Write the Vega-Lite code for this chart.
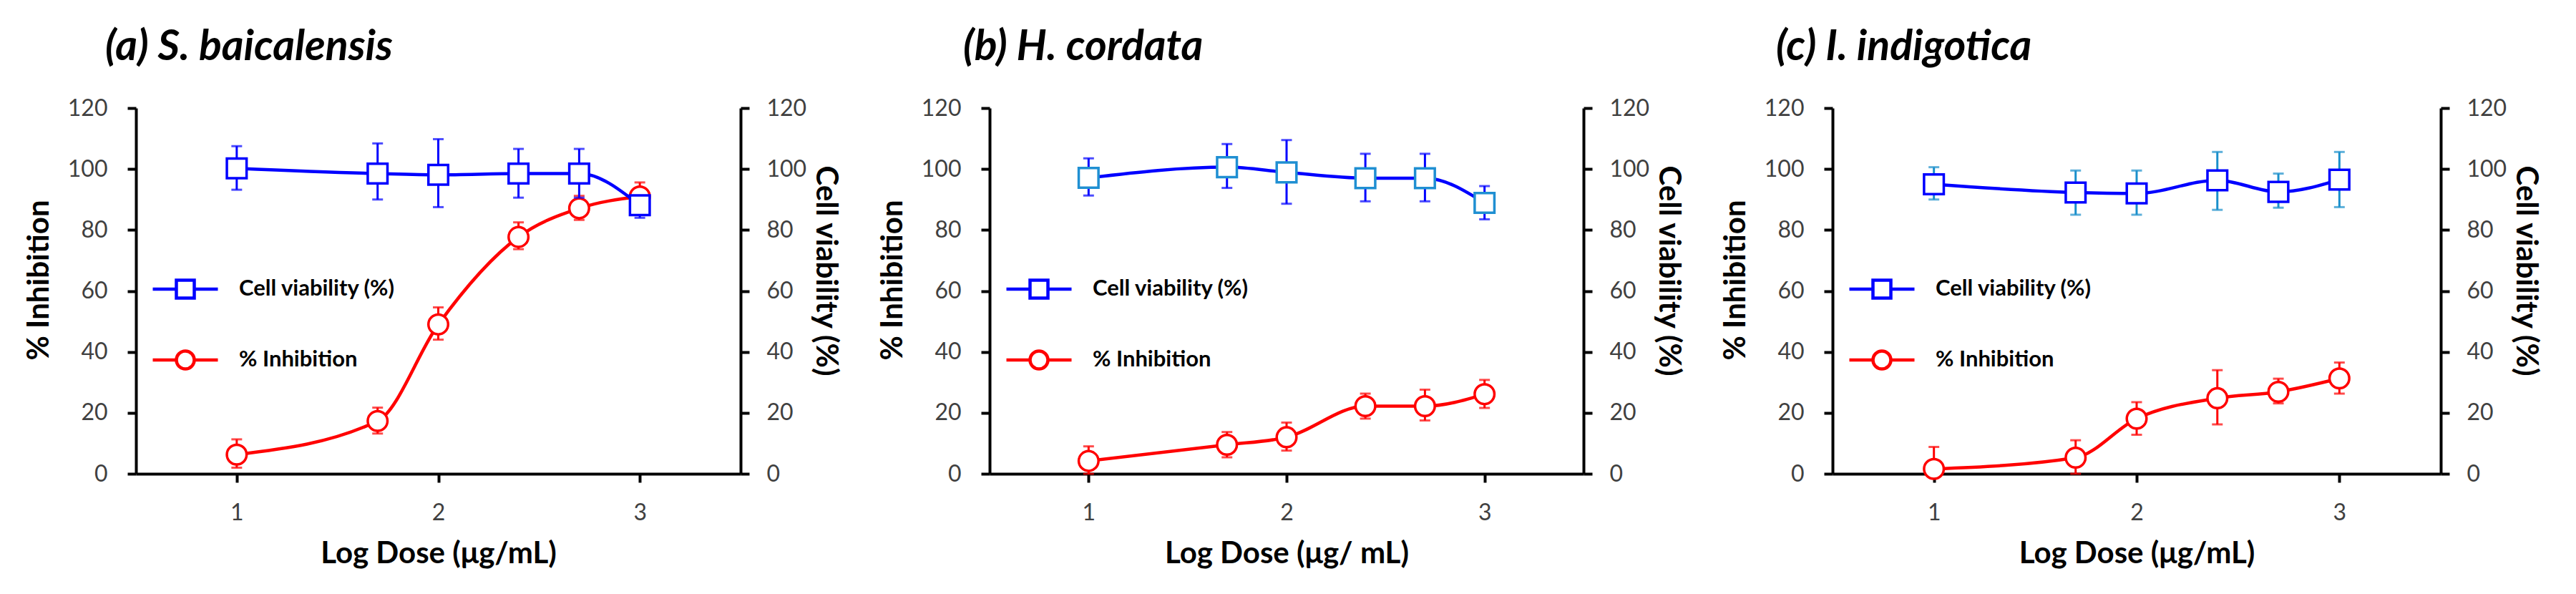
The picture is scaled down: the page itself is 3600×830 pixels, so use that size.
{
  "$schema": "https://vega.github.io/schema/vega-lite/v6.json",
  "padding": {"left": 33, "top": 37, "right": 5, "bottom": 5},
  "background": "white",
  "config": {
    "view": {"stroke": null},
    "font": "Lato",
    "title": {"fontSize": 59, "fontWeight": "bold", "fontStyle": "italic", "anchor": "start", "frame": "group", "color": "black", "offset": 39},
    "axis": {
      "grid": false,
      "domainColor": "black",
      "domainWidth": 4,
      "tickColor": "black",
      "tickWidth": 4,
      "tickSize": 12,
      "labelFont": "Lato",
      "labelFontSize": 32,
      "labelColor": "#404040",
      "labelPadding": 30,
      "titleFont": "Lato",
      "titleFontSize": 42,
      "titleFontWeight": "bold",
      "titleColor": "black"
    },
    "legend": {
      "orient": "none",
      "legendX": 21,
      "legendY": 205,
      "padding": 0,
      "rowPadding": 29,
      "symbolSize": 8281,
      "symbolStrokeWidth": 4.5,
      "labelFont": "Lato",
      "labelFontSize": 31,
      "labelFontWeight": "bold",
      "labelColor": "black",
      "labelOffset": 27,
      "labelLimit": 0
    }
  },
  "datasets": {
    "a": [
      {"dose": 1, "series": "% Inhibition", "value": 6.3, "lo": 2, "hi": 11.3},
      {"dose": 1.699, "series": "% Inhibition", "value": 17.3, "lo": 13.2, "hi": 21.7},
      {"dose": 2, "series": "% Inhibition", "value": 49, "lo": 44, "hi": 54.6},
      {"dose": 2.398, "series": "% Inhibition", "value": 77.7, "lo": 73.7, "hi": 82.5},
      {"dose": 2.699, "series": "% Inhibition", "value": 87.1, "lo": 83.3, "hi": 91.2},
      {"dose": 3, "series": "% Inhibition", "value": 91, "lo": 86.4, "hi": 95.6},
      {"dose": 1, "series": "Cell viability (%)", "value": 100.2, "lo": 93.2, "hi": 107.5},
      {"dose": 1.699, "series": "Cell viability (%)", "value": 98.5, "lo": 90, "hi": 108.4},
      {"dose": 2, "series": "Cell viability (%)", "value": 98.1, "lo": 87.5, "hi": 109.8},
      {"dose": 2.398, "series": "Cell viability (%)", "value": 98.5, "lo": 90.6, "hi": 106.6},
      {"dose": 2.699, "series": "Cell viability (%)", "value": 98.5, "lo": 90.6, "hi": 106.6},
      {"dose": 3, "series": "Cell viability (%)", "value": 88.1, "lo": 84, "hi": 91.2}
    ],
    "b": [
      {"dose": 1, "series": "% Inhibition", "value": 4.2, "lo": 0, "hi": 9},
      {"dose": 1.699, "series": "% Inhibition", "value": 9.5, "lo": 5.4, "hi": 13.7},
      {"dose": 2, "series": "% Inhibition", "value": 12, "lo": 7.6, "hi": 16.8},
      {"dose": 2.398, "series": "% Inhibition", "value": 22.2, "lo": 18.1, "hi": 26.3},
      {"dose": 2.699, "series": "% Inhibition", "value": 22.2, "lo": 17.5, "hi": 27.6},
      {"dose": 3, "series": "% Inhibition", "value": 26.1, "lo": 21.6, "hi": 30.8},
      {"dose": 1, "series": "Cell viability (%)", "value": 97.1, "lo": 91.3, "hi": 103.5},
      {"dose": 1.699, "series": "Cell viability (%)", "value": 100.6, "lo": 93.8, "hi": 108.2},
      {"dose": 2, "series": "Cell viability (%)", "value": 98.9, "lo": 88.6, "hi": 109.5},
      {"dose": 2.398, "series": "Cell viability (%)", "value": 97, "lo": 89.4, "hi": 105},
      {"dose": 2.699, "series": "Cell viability (%)", "value": 97, "lo": 89.4, "hi": 105},
      {"dose": 3, "series": "Cell viability (%)", "value": 88.9, "lo": 83.5, "hi": 94.4}
    ],
    "c": [
      {"dose": 1, "series": "% Inhibition", "value": 1.6, "lo": 0, "hi": 8.8},
      {"dose": 1.699, "series": "% Inhibition", "value": 5.3, "lo": 0, "hi": 11},
      {"dose": 2, "series": "% Inhibition", "value": 18.1, "lo": 12.8, "hi": 23.5},
      {"dose": 2.398, "series": "% Inhibition", "value": 24.8, "lo": 16.2, "hi": 34},
      {"dose": 2.699, "series": "% Inhibition", "value": 26.9, "lo": 23.1, "hi": 31.2},
      {"dose": 3, "series": "% Inhibition", "value": 31.3, "lo": 26.3, "hi": 36.5},
      {"dose": 1, "series": "Cell viability (%)", "value": 95, "lo": 90, "hi": 100.6},
      {"dose": 1.699, "series": "Cell viability (%)", "value": 92.3, "lo": 85, "hi": 99.5},
      {"dose": 2, "series": "Cell viability (%)", "value": 92, "lo": 85, "hi": 99.5},
      {"dose": 2.398, "series": "Cell viability (%)", "value": 96.3, "lo": 86.6, "hi": 105.6},
      {"dose": 2.699, "series": "Cell viability (%)", "value": 92.5, "lo": 87.3, "hi": 98.5},
      {"dose": 3, "series": "Cell viability (%)", "value": 96.5, "lo": 87.5, "hi": 105.6}
    ]
  },
  "spacing": 52,
  "resolve": {"scale": {"color": "independent"}, "legend": {"color": "independent"}},
  "hconcat": [
    {
      "title": {"text": "(a) S. baicalensis", "dx": -43},
      "width": 845,
      "height": 511,
      "data": {"name": "a"},
      "resolve": {"scale": {"y": "independent"}},
      "layer": [
        {
          "transform": [{"filter": "datum.series === '% Inhibition'"}],
          "layer": [
            {
              "mark": {"type": "line", "interpolate": "monotone", "strokeWidth": 4.5},
              "encoding": {
                "x": {"field": "dose", "type": "quantitative", "scale": {"domain": [0.5, 3.5], "nice": false}, "title": "Log Dose (μg/mL)", "axis": {"values": [1, 2, 3], "format": "d", "labelPadding": 27, "titlePadding": 21}},
                "y": {"field": "value", "type": "quantitative", "scale": {"domain": [0, 120], "nice": false}, "title": "% Inhibition", "axis": {"orient": "left", "values": [0, 20, 40, 60, 80, 100, 120], "labelPadding": 28, "minExtent": 96, "maxExtent": 96, "titlePadding": 18, "titleY": 240}},
                "color": {"field": "series", "type": "nominal", "scale": {"domain": ["Cell viability (%)", "% Inhibition"], "range": ["#0000ff", "#ff0000"]},
                  "legend": {"title": null, "labelExpr": "datum.label === '% Inhibition' ? '\u00a0\u00a0% Inhibition' : datum.label",
                    "encode": {"symbols": {"update": {"fill": {"value": "white"}, "shape": {"signal": "datum.value === 'Cell viability (%)' ? 'M-1,0H-0.275M0.275,0H1M-0.275,-0.275H0.275V0.275H-0.275Z' : 'M-1,0H-0.275M0.275,0H1M0.275,0A0.275,0.275,0,1,1,-0.275,0A0.275,0.275,0,1,1,0.275,0Z'"}}}}}}
              }
            },
            {
              "mark": {"type": "errorbar", "color": "#ff0000", "ticks": {"size": 15, "thickness": 3, "color": "#ff0000"}, "rule": {"strokeWidth": 3, "color": "#ff0000"}},
              "encoding": {
                "x": {"field": "dose", "type": "quantitative"},
                "y": {"field": "lo", "type": "quantitative", "title": "% Inhibition"},
                "y2": {"field": "hi"}
              }
            },
            {
              "mark": {"type": "point", "shape": "circle", "filled": true, "fill": "white", "stroke": "#ff0000", "strokeWidth": 3.5, "size": 760, "opacity": 1},
              "encoding": {
                "x": {"field": "dose", "type": "quantitative"},
                "y": {"field": "value", "type": "quantitative", "title": "% Inhibition"}
              }
            }
          ]
        },
        {
          "transform": [{"filter": "datum.series === 'Cell viability (%)'"}],
          "layer": [
            {
              "mark": {"type": "line", "interpolate": "monotone", "strokeWidth": 4.5},
              "encoding": {
                "x": {"field": "dose", "type": "quantitative"},
                "y": {"field": "value", "type": "quantitative", "scale": {"domain": [0, 120], "nice": false}, "title": "Cell viability (%)", "axis": {"orient": "right", "values": [0, 20, 40, 60, 80, 100, 120], "labelPadding": 24, "minExtent": 90, "maxExtent": 90, "titlePadding": 6, "titleY": 227}},
                "color": {"field": "series", "type": "nominal"}
              }
            },
            {
              "mark": {"type": "errorbar", "color": "#0000ff", "ticks": {"size": 15, "thickness": 3, "color": "#0000ff"}, "rule": {"strokeWidth": 3, "color": "#0000ff"}},
              "encoding": {
                "x": {"field": "dose", "type": "quantitative"},
                "y": {"field": "lo", "type": "quantitative", "title": "Cell viability (%)"},
                "y2": {"field": "hi"}
              }
            },
            {
              "mark": {"type": "point", "shape": "square", "filled": true, "fill": "white", "stroke": "#0000ff", "strokeWidth": 3.5, "size": 760, "opacity": 1},
              "encoding": {
                "x": {"field": "dose", "type": "quantitative"},
                "y": {"field": "value", "type": "quantitative", "title": "Cell viability (%)"}
              }
            }
          ]
        }
      ]
    },
    {
      "title": {"text": "(b) H. cordata", "dx": -37},
      "width": 830,
      "height": 511,
      "data": {"name": "b"},
      "resolve": {"scale": {"y": "independent"}},
      "layer": [
        {
          "transform": [{"filter": "datum.series === '% Inhibition'"}],
          "layer": [
            {
              "mark": {"type": "line", "interpolate": "monotone", "strokeWidth": 4.5},
              "encoding": {
                "x": {"field": "dose", "type": "quantitative", "scale": {"domain": [0.5, 3.5], "nice": false}, "title": "Log Dose (μg/ mL)", "axis": {"values": [1, 2, 3], "format": "d", "labelPadding": 27, "titlePadding": 21}},
                "y": {"field": "value", "type": "quantitative", "scale": {"domain": [0, 120], "nice": false}, "title": "% Inhibition", "axis": {"orient": "left", "values": [0, 20, 40, 60, 80, 100, 120], "labelPadding": 28, "minExtent": 96, "maxExtent": 96, "titlePadding": 18, "titleY": 240}},
                "color": {"field": "series", "type": "nominal", "scale": {"domain": ["Cell viability (%)", "% Inhibition"], "range": ["#0000ff", "#ff0000"]},
                  "legend": {"title": null, "labelExpr": "datum.label === '% Inhibition' ? '\u00a0\u00a0% Inhibition' : datum.label",
                    "encode": {"symbols": {"update": {"fill": {"value": "white"}, "shape": {"signal": "datum.value === 'Cell viability (%)' ? 'M-1,0H-0.275M0.275,0H1M-0.275,-0.275H0.275V0.275H-0.275Z' : 'M-1,0H-0.275M0.275,0H1M0.275,0A0.275,0.275,0,1,1,-0.275,0A0.275,0.275,0,1,1,0.275,0Z'"}}}}}}
              }
            },
            {
              "mark": {"type": "errorbar", "color": "#ff0000", "ticks": {"size": 15, "thickness": 3, "color": "#ff0000"}, "rule": {"strokeWidth": 3, "color": "#ff0000"}},
              "encoding": {
                "x": {"field": "dose", "type": "quantitative"},
                "y": {"field": "lo", "type": "quantitative", "title": "% Inhibition"},
                "y2": {"field": "hi"}
              }
            },
            {
              "mark": {"type": "point", "shape": "circle", "filled": true, "fill": "white", "stroke": "#ff0000", "strokeWidth": 3.5, "size": 760, "opacity": 1},
              "encoding": {
                "x": {"field": "dose", "type": "quantitative"},
                "y": {"field": "value", "type": "quantitative", "title": "% Inhibition"}
              }
            }
          ]
        },
        {
          "transform": [{"filter": "datum.series === 'Cell viability (%)'"}],
          "layer": [
            {
              "mark": {"type": "line", "interpolate": "monotone", "strokeWidth": 4.5},
              "encoding": {
                "x": {"field": "dose", "type": "quantitative"},
                "y": {"field": "value", "type": "quantitative", "scale": {"domain": [0, 120], "nice": false}, "title": "Cell viability (%)", "axis": {"orient": "right", "values": [0, 20, 40, 60, 80, 100, 120], "labelPadding": 24, "minExtent": 90, "maxExtent": 90, "titlePadding": 6, "titleY": 227}},
                "color": {"field": "series", "type": "nominal"}
              }
            },
            {
              "mark": {"type": "errorbar", "color": "#0000ff", "ticks": {"size": 15, "thickness": 3, "color": "#0000ff"}, "rule": {"strokeWidth": 3, "color": "#0000ff"}},
              "encoding": {
                "x": {"field": "dose", "type": "quantitative"},
                "y": {"field": "lo", "type": "quantitative", "title": "Cell viability (%)"},
                "y2": {"field": "hi"}
              }
            },
            {
              "mark": {"type": "point", "shape": "square", "filled": true, "fill": "white", "stroke": "#1f8fd2", "strokeWidth": 3.5, "size": 760, "opacity": 1},
              "encoding": {
                "x": {"field": "dose", "type": "quantitative"},
                "y": {"field": "value", "type": "quantitative", "title": "Cell viability (%)"}
              }
            }
          ]
        }
      ]
    },
    {
      "title": {"text": "(c) I. indigotica", "dx": -79},
      "width": 850,
      "height": 511,
      "data": {"name": "c"},
      "resolve": {"scale": {"y": "independent"}},
      "layer": [
        {
          "transform": [{"filter": "datum.series === '% Inhibition'"}],
          "layer": [
            {
              "mark": {"type": "line", "interpolate": "monotone", "strokeWidth": 4.5},
              "encoding": {
                "x": {"field": "dose", "type": "quantitative", "scale": {"domain": [0.5, 3.5], "nice": false}, "title": "Log Dose (μg/mL)", "axis": {"values": [1, 2, 3], "format": "d", "labelPadding": 27, "titlePadding": 21}},
                "y": {"field": "value", "type": "quantitative", "scale": {"domain": [0, 120], "nice": false}, "title": "% Inhibition", "axis": {"orient": "left", "values": [0, 20, 40, 60, 80, 100, 120], "labelPadding": 28, "minExtent": 96, "maxExtent": 96, "titlePadding": 18, "titleY": 240}},
                "color": {"field": "series", "type": "nominal", "scale": {"domain": ["Cell viability (%)", "% Inhibition"], "range": ["#0000ff", "#ff0000"]},
                  "legend": {"title": null, "labelExpr": "datum.label === '% Inhibition' ? '\u00a0\u00a0% Inhibition' : datum.label",
                    "encode": {"symbols": {"update": {"fill": {"value": "white"}, "shape": {"signal": "datum.value === 'Cell viability (%)' ? 'M-1,0H-0.275M0.275,0H1M-0.275,-0.275H0.275V0.275H-0.275Z' : 'M-1,0H-0.275M0.275,0H1M0.275,0A0.275,0.275,0,1,1,-0.275,0A0.275,0.275,0,1,1,0.275,0Z'"}}}}}}
              }
            },
            {
              "mark": {"type": "errorbar", "color": "#ff0000", "ticks": {"size": 15, "thickness": 3, "color": "#ff0000"}, "rule": {"strokeWidth": 3, "color": "#ff0000"}},
              "encoding": {
                "x": {"field": "dose", "type": "quantitative"},
                "y": {"field": "lo", "type": "quantitative", "title": "% Inhibition"},
                "y2": {"field": "hi"}
              }
            },
            {
              "mark": {"type": "point", "shape": "circle", "filled": true, "fill": "white", "stroke": "#ff0000", "strokeWidth": 3.5, "size": 760, "opacity": 1},
              "encoding": {
                "x": {"field": "dose", "type": "quantitative"},
                "y": {"field": "value", "type": "quantitative", "title": "% Inhibition"}
              }
            }
          ]
        },
        {
          "transform": [{"filter": "datum.series === 'Cell viability (%)'"}],
          "layer": [
            {
              "mark": {"type": "line", "interpolate": "monotone", "strokeWidth": 4.5},
              "encoding": {
                "x": {"field": "dose", "type": "quantitative"},
                "y": {"field": "value", "type": "quantitative", "scale": {"domain": [0, 120], "nice": false}, "title": "Cell viability (%)", "axis": {"orient": "right", "values": [0, 20, 40, 60, 80, 100, 120], "labelPadding": 24, "minExtent": 90, "maxExtent": 90, "titlePadding": 6, "titleY": 227}},
                "color": {"field": "series", "type": "nominal"}
              }
            },
            {
              "mark": {"type": "errorbar", "color": "#1a8fcb", "ticks": {"size": 15, "thickness": 3, "color": "#1a8fcb"}, "rule": {"strokeWidth": 3, "color": "#1a8fcb"}},
              "encoding": {
                "x": {"field": "dose", "type": "quantitative"},
                "y": {"field": "lo", "type": "quantitative", "title": "Cell viability (%)"},
                "y2": {"field": "hi"}
              }
            },
            {
              "mark": {"type": "point", "shape": "square", "filled": true, "fill": "white", "stroke": "#0000ff", "strokeWidth": 3.5, "size": 760, "opacity": 1},
              "encoding": {
                "x": {"field": "dose", "type": "quantitative"},
                "y": {"field": "value", "type": "quantitative", "title": "Cell viability (%)"}
              }
            }
          ]
        }
      ]
    }
  ]
}
